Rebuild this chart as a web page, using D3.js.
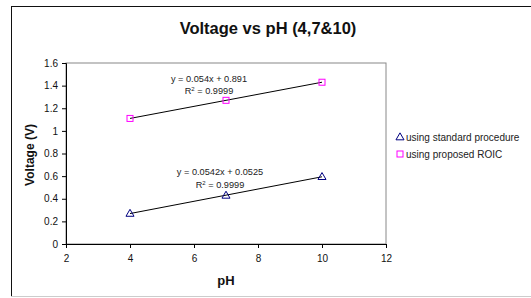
<!DOCTYPE html>
<html>
<head>
<meta charset="utf-8">
<script src="https://cdn.jsdelivr.net/npm/d3@7"></script>
<style>
  body { margin: 0; background: #fff; }
  svg { font-family: "Liberation Sans", Arial, sans-serif; }
</style>
</head>
<body>
<svg id="chart" width="531" height="298"></svg>
<script>
// Data
const phValues = [4, 7, 10];
const standardVolts = [0.27, 0.43, 0.595];
const roicVolts = [1.11, 1.27, 1.43];
const xTicks = [2, 4, 6, 8, 10, 12];
const yTicks = [0, 0.2, 0.4, 0.6, 0.8, 1, 1.2, 1.4, 1.6];
const seriesNames = ["using standard procedure", "using proposed ROIC"];
const fitLabels = [["y = 0.0542x + 0.0525", "0.9999"], ["y = 0.054x + 0.891", "0.9999"]];

const NAVY = "#000080";
const MAGENTA = "#ff00ff";

const svg = d3.select("#chart");

// chart frame
svg.append("rect")
    .attr("x", 11.5).attr("y", 6.5)
    .attr("width", 530).attr("height", 290)
    .attr("fill", "#fff").attr("stroke", "#111").attr("stroke-width", 1);
svg.append("line")
    .attr("x1", 11).attr("x2", 531).attr("y1", 296.5).attr("y2", 296.5)
    .attr("stroke", "#ccc");

const plotLeft = 66, plotRight = 386, plotTop = 63, plotBottom = 244;

const x = d3.scaleLinear().domain([2, 12]).range([plotLeft, plotRight]);
const y = d3.scaleLinear().domain([0, 1.6]).range([plotBottom, plotTop]);

// plot area border (gray top/right)
svg.append("rect")
    .attr("x", plotLeft).attr("y", plotTop)
    .attr("width", plotRight - plotLeft).attr("height", plotBottom - plotTop)
    .attr("fill", "none").attr("stroke", "#888");

// axes
const xAxis = svg.append("g")
    .attr("transform", `translate(0,${plotBottom})`)
    .call(d3.axisBottom(x).tickValues(xTicks).tickSize(4).tickPadding(7).tickFormat(d3.format("d")));
const yAxis = svg.append("g")
    .attr("transform", `translate(${plotLeft},0)`)
    .call(d3.axisLeft(y).tickValues(yTicks).tickSize(4).tickPadding(4).tickFormat(d => String(+d.toFixed(1))));
[xAxis, yAxis].forEach(g => {
  g.select(".domain").attr("stroke", "#000");
  g.selectAll(".tick line").attr("stroke", "#000");
  g.selectAll("text").attr("fill", "#111").attr("font-size", 10)
    .attr("font-family", "Liberation Sans, Arial, sans-serif");
});

// trendlines (least squares over the points)
function fit(xs, ys) {
  const mx = d3.mean(xs), my = d3.mean(ys);
  const b = d3.sum(xs, (v, i) => (v - mx) * (ys[i] - my)) / d3.sum(xs, v => (v - mx) ** 2);
  return [b, my - b * mx];
}
const series = [standardVolts, roicVolts];
series.forEach(ys => {
  const [b, a] = fit(phValues, ys);
  svg.append("line")
    .attr("x1", x(4)).attr("y1", y(a + b * 4))
    .attr("x2", x(10)).attr("y2", y(a + b * 10))
    .attr("stroke", "#000").attr("stroke-width", 1);
});

// markers
const tri = d3.symbol().type(d3.symbolTriangle).size(28);
svg.append("g").selectAll("path")
  .data(phValues.map((p, i) => [p, standardVolts[i]]))
  .join("path")
    .attr("d", tri)
    .attr("transform", d => `translate(${x(d[0])},${y(d[1]) + 0.5})`)
    .attr("fill", "none").attr("stroke", NAVY).attr("stroke-width", 1);
svg.append("g").selectAll("rect")
  .data(phValues.map((p, i) => [p, roicVolts[i]]))
  .join("rect")
    .attr("x", d => x(d[0]) - 3).attr("y", d => y(d[1]) - 3)
    .attr("width", 6).attr("height", 6)
    .attr("fill", "none").attr("stroke", MAGENTA).attr("stroke-width", 1);

// trendline labels
const labelPos = [[220, 174.5, 188], [209, 81.5, 94]];
fitLabels.forEach((lab, i) => {
  const [cx, y1, y2] = labelPos[i];
  svg.append("text").attr("x", cx).attr("y", y1).attr("text-anchor", "middle")
    .attr("font-size", 9.2).attr("fill", "#222").text(lab[0]);
  const t = svg.append("text").attr("x", cx).attr("y", y2).attr("text-anchor", "middle")
    .attr("font-size", 9.2).attr("fill", "#222");
  t.append("tspan").text("R");
  t.append("tspan").attr("dy", -3.5).attr("font-size", 6).text("2");
  t.append("tspan").attr("dy", 3.5).text(" = " + lab[1]);
});

// title
svg.append("text").attr("x", 268).attr("y", 34).attr("text-anchor", "middle")
  .attr("font-size", 16.5).attr("font-weight", "bold").attr("fill", "#111")
  .text("Voltage vs pH (4,7&10)");

// axis titles
svg.append("text").attr("x", 226).attr("y", 285).attr("text-anchor", "middle")
  .attr("font-size", 13).attr("font-weight", "bold").attr("fill", "#111").text("pH");
svg.append("text")
  .attr("transform", "translate(34,155) rotate(-90)")
  .attr("text-anchor", "middle")
  .attr("font-size", 12).attr("font-weight", "bold").attr("fill", "#111").text("Voltage (V)");

// legend
const legend = svg.append("g").attr("transform", "translate(400,0)");
const legendY = [137, 154];
seriesNames.forEach((name, i) => {
  if (i === 0) {
    legend.append("path").attr("d", tri)
      .attr("transform", `translate(0,${legendY[i] + 0.5})`)
      .attr("fill", "none").attr("stroke", NAVY);
  } else {
    legend.append("rect").attr("x", -3).attr("y", legendY[i] - 3)
      .attr("width", 6).attr("height", 6)
      .attr("fill", "none").attr("stroke", MAGENTA);
  }
  legend.append("text").attr("x", 6).attr("y", legendY[i] + 3.5)
    .attr("font-size", 10).attr("fill", "#222").text(name);
});
</script>
</body>
</html>
